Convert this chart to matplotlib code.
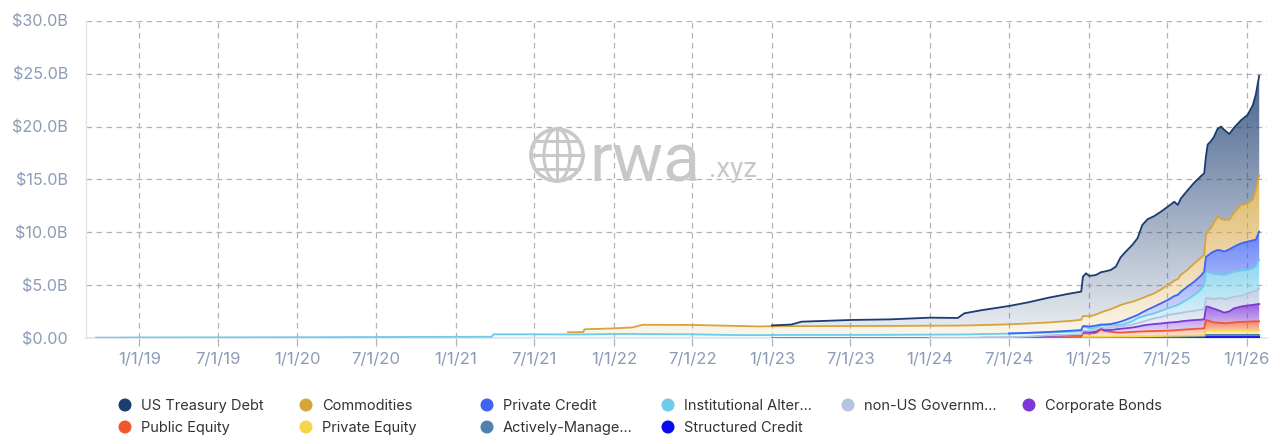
import numpy as np
import matplotlib
matplotlib.use("Agg")
import matplotlib.pyplot as plt
import matplotlib.dates as mdates
from matplotlib.colors import to_rgb
from matplotlib.patches import Ellipse
import datetime as dt

plt.rcParams['font.family'] = ['Inter', 'DejaVu Sans']

# ---------------- data (values in $B) ----------------
dates = [
    "2018-09-23", "2019-01-01", "2019-07-01", "2020-01-01", "2020-07-01", "2021-01-01",
    "2021-03-25", "2021-03-29", "2021-07-01", "2021-09-15", "2021-09-17", "2021-10-22",
    "2021-10-25", "2022-01-01", "2022-02-13", "2022-03-08", "2022-07-01", "2022-10-01",
    "2022-12-01", "2023-01-01", "2023-02-15", "2023-03-10", "2023-07-01", "2023-10-01",
    "2024-01-01", "2024-03-05", "2024-03-20", "2024-05-01", "2024-07-01", "2024-08-15",
    "2024-10-01", "2024-11-22", "2024-12-15", "2024-12-19", "2024-12-26", "2025-01-03",
    "2025-01-18", "2025-01-30", "2025-02-06", "2025-02-21", "2025-03-05", "2025-03-16",
    "2025-03-28", "2025-04-12", "2025-04-24", "2025-05-05", "2025-05-17", "2025-06-02",
    "2025-06-17", "2025-07-03", "2025-07-18", "2025-07-26", "2025-08-02", "2025-08-18",
    "2025-09-02", "2025-09-17", "2025-09-25", "2025-09-29", "2025-10-03", "2025-10-10",
    "2025-10-17", "2025-10-26", "2025-11-03", "2025-11-10", "2025-11-22", "2025-12-03",
    "2025-12-19", "2026-01-03", "2026-01-15", "2026-01-22", "2026-01-30",
]

structured_credit = [0] * 33 + [
    .03, .03, .03, .03, .03, .03, .03, .03, .04, .04, .04, .04, .04, .04,
    .05, .05, .05, .05, .05, .05, .05, .06, .06, .06] + [.12] * 14

actively_managed = [0] * 30 + [
    .01, .02, .02, .05, .05, .05, .05, .06, .06, .06, .06, .06, .06, .07, .07,
    .08, .08, .08, .08, .09, .09, .10, .10, .11, .11, .12, .12] + [.20] * 14

private_equity = [0] * 29 + [
    .01, .02, .02, .02, .07, .07, .07, .07, .07, .07, .07, .08, .07, .08, .07,
    .08, .08, .08, .08, .09, .09, .10, .09, .10, .10, .10, .10, .10] + [.46] * 14

public_equity = [0] * 19 + [
    .02, .03, .03, .03, .03, .03, .03, .03, .04, .04, .05, .06, .08, .09,
    .30, .31, .30, .35, .69, .54, .46, .39, .37, .38, .42, .44, .45, .47, .47,
    .48, .49, .51, .54, .55, .59, .61, .64, .66,
    .95, .92, .82, .72, .70, .67, .64, .67, .72, .77, .79, .82, .82, .82]

corporate_bonds = [0] * 27 + [
    .01, .02, .06, .13, .18, .19, .15, .14, .13, .12, .10, .08, .16, .29, .36,
    .39, .42, .47, .55, .61, .67, .70, .76, .77, .77, .80, .82, .84, .84, .85,
    1.26, 1.30, 1.30, 1.30, 1.20, 1.10, 1.00, 1.10, 1.33, 1.45, 1.53, 1.55, 1.60, 1.64]

non_us_government = [0] * 24 + [
    .02, .02, .02, .03, .04, .04, .06, .05, .06, .12, .12, .12, .18, .10, .16,
    .22, .20, .20, .25, .28, .32, .35, .42, .54, .60, .72, .78, .80, .80, .85,
    .88, .94, .95, .79, .80, .85, .92, 1.10, 1.25, 1.28, 1.25, 1.11, 1.00, 1.15,
    1.25, 1.30, 1.48]

institutional_alt = [
    .06, .08, .09, .10, .12, .14, .15, .38, .38, .37, .36, .37, .37, .41, .41,
    .40, .38, .31, .30, .29, .29, .29, .29, .30, .30, .31, .31, .32, .34, .32,
    .26, .27, .28, .38, .33, .20, .20, .20, .26, .22, .20, .16, .20, .30, .48,
    .50, .50, .47, .60, .63, .75, .80, .90, 1.18, 1.50, 1.90, 2.30, 2.52, 2.50,
    2.39, 2.38, 2.27, 2.20, 2.28, 2.35, 2.36, 2.40, 2.20, 2.20, 2.30, 2.68]

private_credit = [0] * 28 + [
    .02, .04, .06, .10, .12, .05, .10, .20, .20, .05, .10, .13, .20, .31, .35,
    .40, .30, .40, .50, .64, .70, .79, .95, .95, 1.10, 1.20, 1.25, 1.30, 1.26,
    1.40, 1.50, 1.89, 2.10, 2.29, 2.30, 2.21, 2.25, 2.36, 2.57, 2.68, 2.65, 2.50, 2.68]

commodities = [0] * 10 + [
    .21, .22, .48, .53, .62, .88, .88, .87, .82, .83, .83, .83, .84, .84, .84,
    .84, .85, .85, .86, .88, .90, .93, .97, .95, .95, .95, 1.05, 1.15, 1.25,
    1.40, 1.50, 1.58, 1.55, 1.45, 1.42, 1.35, 1.30, 1.25, 1.30, 1.42, 1.45,
    1.50, 1.58, 1.60, 1.73, 1.70, 1.57, 2.06, 2.30, 2.36, 2.70, 3.15, 3.00,
    2.99, 2.80, 3.21, 3.63, 3.62, 3.85, 4.70, 5.32]

us_treasury = [0] * 19 + [
    .08, .15, .42, .57, .62, .76, .72, 1.15, 1.42, 1.73, 2.00, 2.34, 2.60, 2.66,
    3.72, 4.04, 3.84, 3.73, 3.80, 3.75, 3.70, 3.82, 4.50, 4.89, 5.37, 5.83,
    6.90, 7.24, 7.31, 7.36, 7.40, 7.45, 7.00, 7.22, 7.50, 7.62, 7.70, 7.73,
    7.44, 8.20, 8.21, 8.10, 8.31, 8.70, 8.52, 8.10, 8.03, 8.00, 8.35, 8.90,
    9.00, 9.40]

# stacking order: bottom -> top
stack_names = ["Structured Credit", "Actively-Managed", "Private Equity", "Public Equity",
               "Corporate Bonds", "non-US Government", "Institutional Alternative",
               "Private Credit", "Commodities", "US Treasury Debt"]
stack_values = [structured_credit, actively_managed, private_equity, public_equity,
                corporate_bonds, non_us_government, institutional_alt,
                private_credit, commodities, us_treasury]
stack_colors = ["#0b0bef", "#5080b0", "#f7d548", "#f0582c", "#7c36da",
                "#b4c4de", "#6ecbea", "#3f63f3", "#d5a43c", "#1b3d70"]

legend_labels = ["US Treasury Debt", "Commodities", "Private Credit", "Institutional Alter...",
                 "non-US Governm...", "Corporate Bonds", "Public Equity", "Private Equity",
                 "Actively-Manage...", "Structured Credit"]
legend_colors = ["#1b3d70", "#d5a43c", "#3f63f3", "#6ecbea", "#b4c4de", "#7c36da",
                 "#f0582c", "#f7d548", "#5080b0", "#0b0bef"]

tick_dates = ["2019-01-01", "2019-07-01", "2020-01-01", "2020-07-01", "2021-01-01",
              "2021-07-01", "2022-01-01", "2022-07-01", "2023-01-01", "2023-07-01",
              "2024-01-01", "2024-07-01", "2025-01-01", "2025-07-01", "2026-01-01"]
tick_labels = ["1/1/19", "7/1/19", "1/1/20", "7/1/20", "1/1/21", "7/1/21", "1/1/22",
               "7/1/22", "1/1/23", "7/1/23", "1/1/24", "7/1/24", "1/1/25", "7/1/25", "1/1/26"]
y_ticks = [0, 5, 10, 15, 20, 25, 30]
y_labels = ["$0.00", "$5.0B", "$10.0B", "$15.0B", "$20.0B", "$25.0B", "$30.0B"]

# ---------------- figure ----------------
W, H = 1280, 444
fig = plt.figure(figsize=(W / 100, H / 100), dpi=100)
ax_l, ax_r, ax_t, ax_b = 86, 1267, 20.7, 338.3
ax = fig.add_axes([ax_l / W, 1 - ax_b / H, (ax_r - ax_l) / W, (ax_b - ax_t) / H])

def dnum(s):
    return mdates.date2num(dt.datetime.strptime(s, "%Y-%m-%d"))

xn = np.array([dnum(d) for d in dates])
vals = [np.array(v, dtype=float) for v in stack_values]
for v in vals:
    assert len(v) == len(xn)

def grad_area(lo, hi, color, z):
    coll = ax.fill_between(xn, lo, hi, facecolor='none', edgecolor='none', lw=0, zorder=z)
    ymin, ymax = float(np.min(lo)), float(np.max(hi))
    if ymax - ymin <= 1e-9:
        return
    n = 256
    img = np.zeros((n, 2, 4))
    img[..., :3] = to_rgb(color)
    img[:, :, 3] = np.linspace(0.08, 0.8, n)[:, None]
    im = ax.imshow(img, extent=[xn[0], xn[-1], ymin, ymax], origin='lower',
                   aspect='auto', interpolation='bilinear', zorder=z)
    paths = coll.get_paths()
    if paths:
        im.set_clip_path(paths[0], transform=coll.get_transform())

lower = np.zeros(len(xn))
tops = []
for v, c in zip(vals, stack_colors):
    upper = lower + v
    grad_area(lower.copy(), upper.copy(), c, 2)
    tops.append((upper.copy(), v, c))
    lower = upper

for upper, v, c in tops:
    y = upper.copy()
    y[v <= 0] = np.nan
    ax.plot(xn, y, color=c, lw=1.3, zorder=3, solid_joinstyle='round')

ax.set_xlim(dnum("2018-08-31"), dnum("2026-02-17"))
ax.set_ylim(0, 30)
ax.set_xticks([dnum(d) for d in tick_dates])
ax.set_xticklabels(tick_labels)
ax.set_yticks(y_ticks)
ax.set_yticklabels(y_labels)

grid_kw = dict(color='#b3b3b3', lw=0.9, ls=(0, (4.5, 3.5)))
ax.grid(True, **grid_kw)
ax.set_axisbelow(True)
for s in ['top', 'right']:
    ax.spines[s].set_visible(False)
ax.spines['left'].set_color('#dfe4ee')
ax.spines['bottom'].set_color('#dfe4ee')
ax.spines['left'].set_linewidth(1)
ax.spines['bottom'].set_linewidth(1.2)
ax.tick_params(axis='x', length=6, width=0.9, color='#b3b3b3', pad=4,
               labelsize=12, labelcolor='#8c9cb6')
ax.tick_params(axis='y', length=0, pad=13, labelsize=11.6, labelcolor='#8c9cb6')

# ---------------- overlay: watermark and legend ----------------
ov = fig.add_axes([0, 0, 1, 1], facecolor='none')
ov.set_xlim(0, W)
ov.set_ylim(H, 0)
ov.axis('off')

wm = '#c8c8c8'
cx, cy, r = 557, 155, 26
ov.add_patch(Ellipse((cx, cy), 2 * r, 2 * r, fill=False, ec=wm, lw=2.6))
ov.add_patch(Ellipse((cx, cy), r, 2 * r, fill=False, ec=wm, lw=2.2))
ov.plot([cx, cx], [cy - r, cy + r], color=wm, lw=2.2)
ov.plot([cx - r, cx + r], [cy, cy], color=wm, lw=2.2)
for dy in (-0.55 * r, 0.55 * r):
    hw = np.sqrt(r ** 2 - dy ** 2)
    ov.plot([cx - hw, cx + hw], [cy + dy, cy + dy], color=wm, lw=2.2)
ov.text(589, 181, "rwa", fontsize=49, color=wm, family=['Roboto', 'DejaVu Sans'],
        ha='left', va='baseline')
ov.text(709, 177, ".xyz", fontsize=20, color=wm, family=['Roboto', 'DejaVu Sans'],
        ha='left', va='baseline')

col_x = [125, 306, 487, 668, 848, 1029]
row_y = [405, 427]
for i, (lab, c) in enumerate(zip(legend_labels, legend_colors)):
    row, col = divmod(i, 6)
    x, y = col_x[col], row_y[row]
    ov.add_patch(Ellipse((x, y), 13, 13, color=c, lw=0))
    ov.text(x + 16, y + 0.5, lab, fontsize=10.5, color='#333333', ha='left', va='center')

fig.savefig("out.png", dpi=100)
